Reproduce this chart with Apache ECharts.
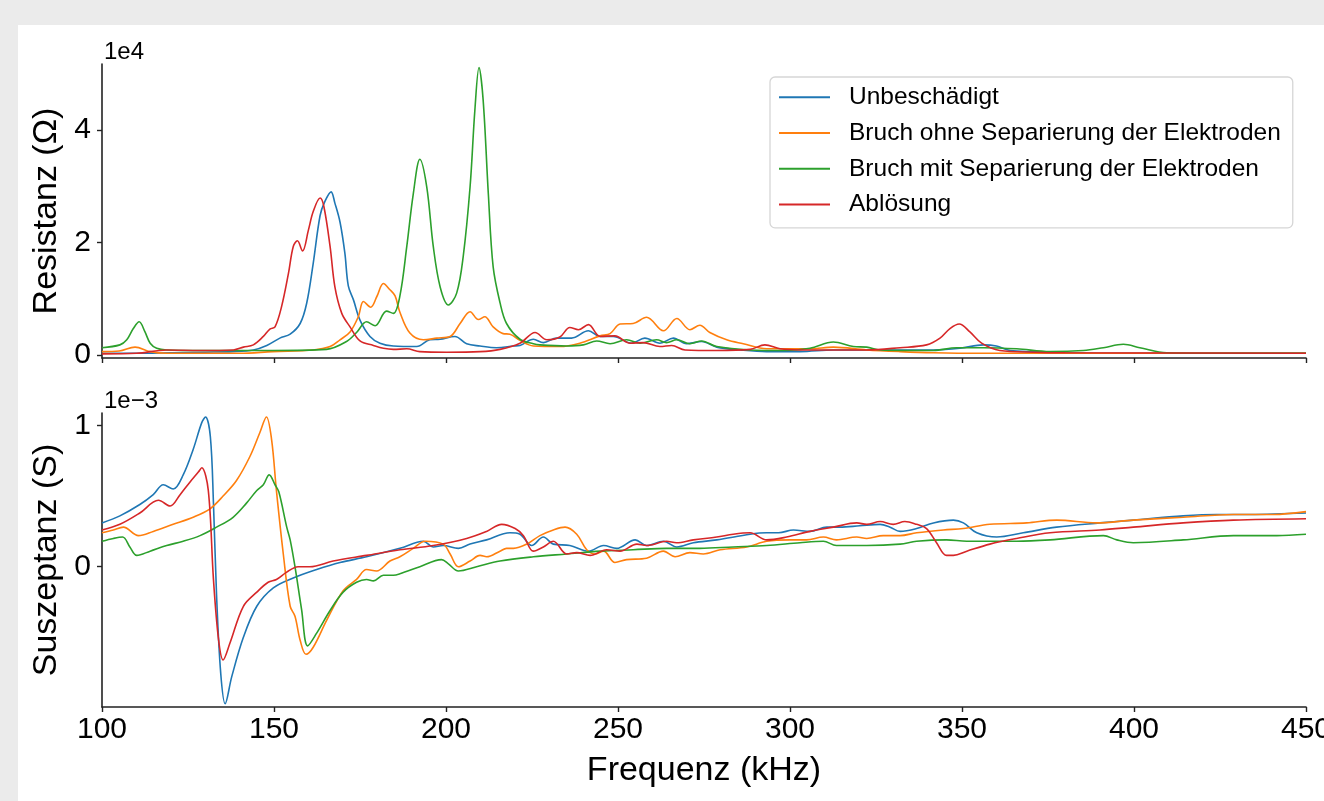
<!DOCTYPE html>
<html>
<head>
<meta charset="utf-8">
<script src="https://cdn.jsdelivr.net/npm/echarts@6/dist/echarts.min.js"></script>
<style>
  html, body { margin: 0; padding: 0; background: #ebebeb; }
  #chart { width: 1324px; height: 801px; }
</style>
</head>
<body>
<div id="chart"></div>
<script>
// series names (legend)
const names = ['Unbeschädigt', 'Bruch ohne Separierung der Elektroden', 'Bruch mit Separierung der Elektroden', 'Ablösung'];
const colors = ['#1f77b4', '#ff7f0e', '#2ca02c', '#d62728'];

// Resistanz, [kHz, x1e4 Ohm]
const resUnbeschaedigt = [[100,0.03],[110,0.03],[120,0.04],[130,0.05],[138,0.06],[144,0.09],[147.9,0.17],[151.7,0.30],[154.7,0.37],[157.6,0.56],[159.5,0.92],[161.4,1.63],[163.4,2.48],[164.8,2.73],[166.6,2.90],[167.7,2.70],[169.2,2.36],[170.6,1.81],[171.6,1.23],[173.1,0.98],[175,0.62],[177.9,0.33],[180.8,0.21],[184.7,0.16],[191.5,0.15],[195.3,0.27],[198.3,0.28],[202.6,0.33],[206,0.2],[209.9,0.16],[214.7,0.13],[219.6,0.16],[221.5,0.17],[225.4,0.28],[228.3,0.22],[232.2,0.3],[236.5,0.3],[241.4,0.43],[244.8,0.33],[248.6,0.33],[254,0.21],[257.8,0.3],[262.2,0.21],[266.1,0.3],[269.9,0.2],[274.3,0.24],[278.7,0.14],[285.5,0.09],[293.2,0.06],[302.9,0.06],[312.6,0.09],[322.3,0.09],[332,0.09],[341.7,0.09],[349.4,0.12],[356.2,0.18],[360,0.16],[364,0.08],[370.8,0.06],[380.4,0.04],[400,0.03],[450,0.03]];
const resBruchOhne = [[100,0.06],[105,0.07],[109.6,0.14],[114,0.06],[118.8,0.03],[130,0.03],[140,0.03],[149.7,0.06],[161.4,0.09],[166.3,0.15],[169.2,0.27],[172.1,0.41],[174.5,0.68],[176,0.95],[178.1,0.85],[179.9,1.04],[181.8,1.27],[183.7,1.16],[185.2,1.05],[186.6,0.76],[189.5,0.39],[193.4,0.27],[197.3,0.30],[201.2,0.33],[204.1,0.56],[207,0.77],[209.4,0.63],[211.3,0.68],[213.7,0.5],[216.6,0.38],[218.6,0.37],[221.5,0.26],[225.4,0.16],[233.1,0.15],[238.9,0.21],[244.8,0.34],[247.7,0.38],[250.6,0.55],[254.4,0.56],[258.3,0.67],[263.2,0.43],[267.1,0.65],[270.9,0.45],[273.8,0.53],[276.7,0.4],[281.6,0.27],[286.4,0.2],[293.2,0.11],[305.8,0.11],[312.6,0.14],[322.3,0.09],[332,0.06],[341.7,0.04],[355,0.03],[450,0.03]];
const resBruchMit = [[100,0.13],[105.2,0.18],[107.2,0.27],[109.1,0.47],[110.8,0.59],[112.5,0.41],[114,0.21],[115.9,0.12],[118.8,0.09],[130,0.08],[149.7,0.08],[165.3,0.1],[171.1,0.24],[174,0.4],[176.9,0.59],[179.4,0.52],[182.7,0.78],[184.7,0.74],[186.6,1.05],[188.6,1.93],[190.5,2.87],[192.4,3.48],[194.4,2.99],[196.3,1.93],[198.3,1.21],[200.7,0.89],[203.1,1.10],[205,1.75],[207,2.99],[208.4,4.36],[209.6,5.11],[210.8,4.53],[212.3,2.87],[213.7,1.57],[215.7,0.93],[217.6,0.56],[221.5,0.28],[225.4,0.2],[227.3,0.18],[235.1,0.16],[239.9,0.18],[243.8,0.25],[247.7,0.2],[252.5,0.27],[256.4,0.21],[261.2,0.27],[264.1,0.22],[267.1,0.27],[270.9,0.2],[274.3,0.25],[278.7,0.15],[288.4,0.09],[298.1,0.08],[305.8,0.12],[312.6,0.23],[318.4,0.15],[322.3,0.14],[326.2,0.09],[341.7,0.08],[348.4,0.13],[356.2,0.13],[365.9,0.11],[375.6,0.06],[385.3,0.08],[391.1,0.13],[396.9,0.19],[401.7,0.13],[409.5,0.04],[428.9,0.03],[450,0.03]];
const resAbloesung = [[100,0.02],[110,0.03],[118.8,0.09],[128.5,0.08],[138.2,0.09],[141.1,0.14],[144,0.18],[146.9,0.33],[148.8,0.46],[150.3,0.5],[152.2,0.86],[154.2,1.45],[155.6,1.93],[156.8,2.03],[158.3,1.85],[160,2.22],[161.4,2.55],[163.4,2.79],[164.5,2.64],[166.3,1.93],[167.7,1.21],[169.7,0.74],[172.1,0.5],[175,0.25],[178.9,0.17],[181.8,0.12],[184.7,0.10],[188.6,0.11],[192.4,0.06],[200.2,0.05],[209.9,0.06],[215.7,0.10],[221.5,0.21],[225.9,0.40],[229.3,0.27],[233.1,0.32],[236,0.49],[238.5,0.45],[241.4,0.54],[244.8,0.33],[249.1,0.34],[253.5,0.21],[257.3,0.22],[262.2,0.15],[265.6,0.17],[269.5,0.09],[278.7,0.08],[288.4,0.1],[292.7,0.18],[297.1,0.11],[302.9,0.09],[322.3,0.09],[332,0.13],[339.7,0.18],[343.6,0.30],[346.5,0.47],[349.2,0.55],[352.3,0.41],[355.7,0.21],[361,0.08],[370.8,0.05],[380,0.04],[450,0.03]];

// Suszeptanz, [kHz, x1e-3 S]
const susUnbeschaedigt = [[100,0.31],[105.2,0.36],[111,0.44],[114.9,0.51],[117.8,0.58],[120.7,0.55],[123.6,0.65],[126.5,0.83],[129,1.02],[130.1,1.06],[131.5,0.92],[132.4,0.45],[133.3,-0.2],[134.5,-0.75],[135.8,-0.97],[137.7,-0.78],[141.1,-0.50],[145,-0.28],[149.8,-0.15],[155.6,-0.08],[162.4,-0.02],[169.2,0.03],[176.9,0.07],[186.6,0.13],[193.4,0.18],[196.3,0.14],[199.2,0.15],[203.6,0.13],[207,0.16],[211.8,0.19],[218.6,0.24],[221.5,0.23],[224.9,0.15],[228.3,0.21],[231.2,0.16],[236,0.15],[241.4,0.11],[245.8,0.15],[249.6,0.13],[255,0.19],[258.3,0.15],[263.2,0.18],[267.1,0.14],[271.9,0.17],[278.7,0.19],[288.4,0.23],[293.2,0.24],[296.7,0.24],[301,0.26],[305.8,0.25],[310.7,0.28],[314.5,0.28],[320.3,0.29],[326.2,0.30],[329.1,0.28],[332,0.25],[336.8,0.27],[341.7,0.31],[347.5,0.33],[350.4,0.31],[354.3,0.24],[360.1,0.21],[367.8,0.24],[377.5,0.28],[390.1,0.31],[399.8,0.33],[414.3,0.36],[424,0.37],[433.7,0.37],[450,0.38]];
const susBruchOhne = [[100,0.24],[103.3,0.26],[106.2,0.28],[110.6,0.22],[114.9,0.25],[120.7,0.30],[126.5,0.35],[131.4,0.41],[135.2,0.50],[139.1,0.61],[143,0.78],[145.9,0.95],[147.8,1.06],[149.3,0.90],[150.7,0.54],[152.7,0.09],[154.7,-0.28],[156.1,-0.35],[157.6,-0.52],[159.3,-0.62],[161.4,-0.57],[165.3,-0.38],[170.1,-0.17],[174,-0.09],[176.9,-0.02],[179.8,-0.03],[183.7,0.04],[186.6,0.07],[190.5,0.13],[193.9,0.18],[199.2,0.16],[201.2,0.09],[203.6,0.0],[207,0.04],[209.9,0.08],[211.8,0.07],[215.7,0.11],[217.6,0.13],[219.6,0.13],[223.5,0.16],[227.3,0.22],[231.2,0.26],[234.6,0.28],[238,0.23],[240.9,0.12],[243.3,0.09],[245.8,0.11],[249.1,0.03],[252.5,0.05],[258.3,0.06],[263.2,0.11],[266.6,0.07],[270.9,0.10],[274.8,0.09],[279.7,0.12],[287.4,0.14],[293.2,0.18],[300,0.19],[304.8,0.19],[309.7,0.21],[313.5,0.19],[319.4,0.21],[322.3,0.2],[327.1,0.22],[332,0.22],[336.8,0.24],[344.6,0.26],[350.4,0.27],[358.1,0.30],[368.8,0.31],[377.5,0.33],[389.1,0.31],[399.8,0.33],[414.3,0.35],[428.9,0.37],[440.5,0.37],[450,0.39]];
const susBruchMit = [[100,0.18],[103.3,0.2],[106,0.21],[108.1,0.14],[110.1,0.08],[114,0.11],[118.8,0.15],[123.6,0.18],[128.5,0.22],[133.3,0.28],[138.1,0.35],[142,0.45],[145,0.54],[146.9,0.58],[148.6,0.65],[150.3,0.58],[151.4,0.53],[153.7,0.28],[154.7,0.19],[156.1,0.0],[158,-0.30],[159.8,-0.56],[162.4,-0.47],[166.3,-0.31],[170.1,-0.18],[174,-0.11],[176.9,-0.09],[178.9,-0.10],[181.8,-0.06],[184.7,-0.06],[186.6,-0.05],[192.4,0.0],[198.7,0.05],[200.7,0.02],[203.6,-0.03],[208.9,0.0],[215.7,0.04],[225.4,0.07],[235.1,0.09],[244.8,0.11],[254.4,0.12],[264.1,0.13],[273.8,0.13],[283.5,0.14],[293.2,0.15],[302.9,0.17],[309.7,0.18],[313.5,0.15],[322.3,0.15],[332,0.16],[336.8,0.18],[345.5,0.19],[351.4,0.18],[365.9,0.18],[375.6,0.19],[391.1,0.22],[395,0.19],[399.8,0.17],[414.3,0.19],[428.9,0.22],[441.5,0.22],[450,0.23]];
const susAbloesung = [[100,0.26],[105.2,0.30],[111,0.38],[116.4,0.47],[119.8,0.43],[122.7,0.51],[125.6,0.60],[128,0.67],[129,0.70],[130.9,0.54],[132.4,-0.09],[133.9,-0.52],[135.2,-0.66],[137.2,-0.54],[141.1,-0.28],[145,-0.18],[148.3,-0.11],[150.7,-0.09],[153.6,-0.04],[157,0.0],[160.4,0.0],[167.2,0.04],[176.9,0.08],[186.6,0.12],[196.3,0.15],[206,0.20],[211.8,0.25],[216.2,0.30],[220.1,0.27],[222.5,0.22],[225.4,0.11],[228.3,0.14],[231.2,0.18],[235.1,0.09],[238,0.10],[241.9,0.08],[246.7,0.12],[250.6,0.11],[255.5,0.16],[258.3,0.15],[264.1,0.18],[267,0.17],[271.9,0.19],[278.7,0.21],[283.5,0.23],[288.4,0.24],[293.2,0.19],[299,0.21],[305.8,0.25],[312.6,0.28],[319.4,0.31],[322.3,0.30],[326.2,0.32],[330,0.30],[333.4,0.32],[336.8,0.30],[339.7,0.27],[342.6,0.17],[345.5,0.08],[347.5,0.08],[351.4,0.11],[358.1,0.16],[365.9,0.20],[375.6,0.24],[390.1,0.26],[399.8,0.28],[414.3,0.31],[428.9,0.33],[450,0.34]];

const xTicks = [100, 150, 200, 250, 300, 350, 400, 450];
const resTicks = [0, 2, 4];
const susTicks = [0, 1];

const FONT = "'Liberation Sans', Arial, sans-serif";
const AX = '#222';

const resData = [resUnbeschaedigt, resBruchOhne, resBruchMit, resAbloesung];
const susData = [susUnbeschaedigt, susBruchOhne, susBruchMit, susAbloesung];

function makeSeries(data, idx, axis) {
  return {
    name: names[idx],
    type: 'line',
    xAxisIndex: axis,
    yAxisIndex: axis,
    data: data,
    showSymbol: false,
    smooth: 0.35,
    color: colors[idx],
    lineStyle: { width: 1.6, color: colors[idx] }
  };
}

function yAxis(gridIndex, min, max, ticks, name) {
  return {
    type: 'value', gridIndex: gridIndex, min: min, max: max,
    name: name, nameLocation: 'middle', nameGap: 36, nameRotate: 90,
    nameTextStyle: { fontSize: 34, color: '#000', fontFamily: FONT },
    axisLine: { show: true, lineStyle: { color: AX, width: 1.6 } },
    axisTick: { show: true, length: 5, customValues: ticks, lineStyle: { color: AX, width: 1.4 } },
    axisLabel: { show: true, customValues: ticks, fontSize: 30, color: '#000', fontFamily: FONT, margin: 11 },
    splitLine: { show: false }
  };
}

function xAxis(gridIndex, labels) {
  const ax = {
    type: 'value', gridIndex: gridIndex, min: xTicks[0], max: xTicks[xTicks.length - 1], interval: 50,
    axisLine: { show: true, onZero: false, lineStyle: { color: AX, width: 1.6 } },
    axisTick: { show: true, length: 5, lineStyle: { color: AX, width: 1.4 } },
    axisLabel: { show: labels, fontSize: 30, color: '#000', fontFamily: FONT, margin: 8, showMinLabel: true, showMaxLabel: true },
    splitLine: { show: false }
  };
  if (labels) {
    ax.name = 'Frequenz (kHz)';
    ax.nameLocation = 'middle';
    ax.nameGap = 47;
    ax.nameTextStyle = { fontSize: 34, color: '#000', fontFamily: FONT };
  }
  return ax;
}

const chart = echarts.init(document.getElementById('chart'), null, { renderer: 'canvas' });

const series = [];
resData.forEach((d, i) => series.push(makeSeries(d, i, 0)));
susData.forEach((d, i) => series.push(makeSeries(d, i, 1)));

chart.setOption({
  animation: false,
  backgroundColor: '#ebebeb',
  textStyle: { fontFamily: FONT },
  graphic: [
    { type: 'rect', z: -10, silent: true, shape: { x: 18, y: 25, width: 1306, height: 776 }, style: { fill: '#ffffff' } },
    { type: 'text', left: 104, top: 40, style: { text: '1e4', font: '24px ' + FONT, fill: '#000' } },
    { type: 'text', left: 104, top: 389, style: { text: '1e\u22123', font: '24px ' + FONT, fill: '#000' } }
  ],
  legend: {
    data: names,
    orient: 'vertical',
    left: 770,
    top: 77,
    icon: 'rect',
    itemWidth: 51,
    itemHeight: 2,
    itemGap: 5.4,
    padding: [5, 12, 8, 9],
    backgroundColor: '#fff',
    borderColor: '#d6d6d6',
    borderWidth: 1.3,
    borderRadius: 5,
    textStyle: { fontSize: 24.5, color: '#000', fontFamily: FONT, lineHeight: 30.4, padding: [0, 0, 0, 14] }
  },
  grid: [
    { left: 102, right: 18, top: 64, height: 294, outerBoundsMode: 'none', containLabel: false },
    { left: 102, right: 18, top: 413, height: 294, outerBoundsMode: 'none', containLabel: false }
  ],
  xAxis: [xAxis(0, false), xAxis(1, true)],
  yAxis: [
    yAxis(0, -0.0533, 5.173, resTicks, 'Resistanz (\u03a9)'),
    yAxis(1, -0.993, 1.088, susTicks, 'Suszeptanz (S)')
  ],
  series: series
});
</script>
</body>
</html>
